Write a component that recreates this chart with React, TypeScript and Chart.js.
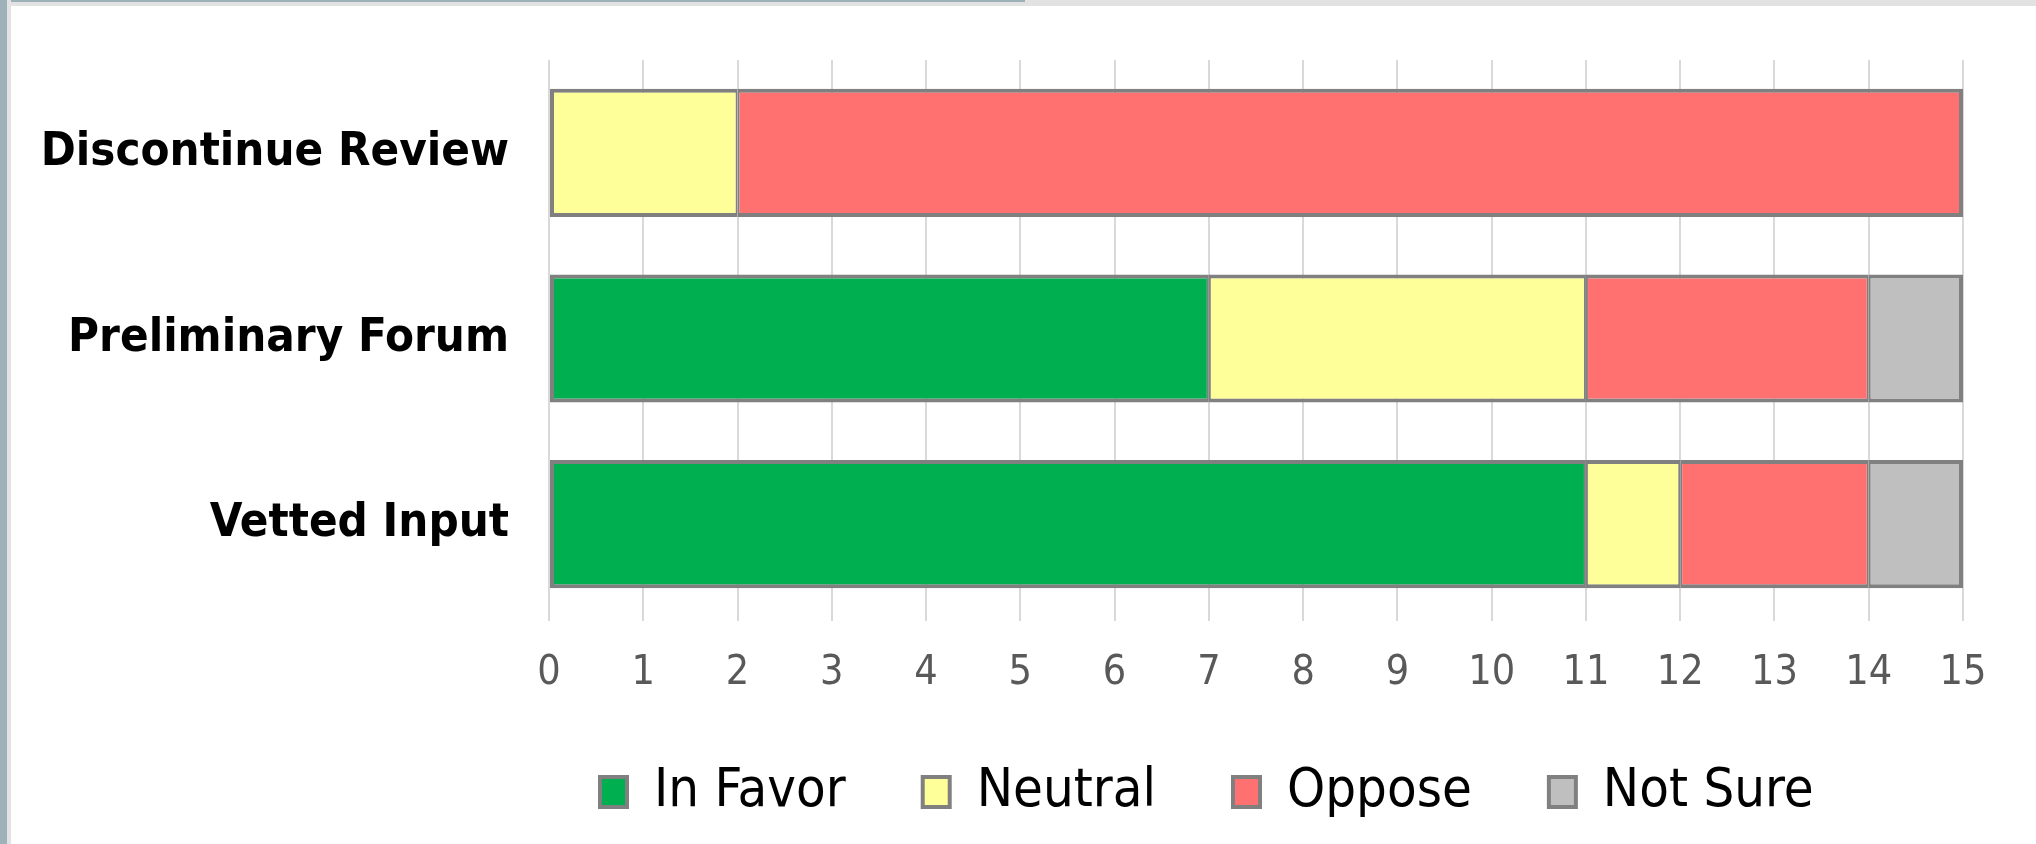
import React, { useEffect, useRef } from "react";
import { Chart, registerables } from "chart.js";

Chart.register(...registerables);

const categories = ["Discontinue Review", "Preliminary Forum", "Vetted Input"];
const seriesNames = ["In Favor", "Neutral", "Oppose", "Not Sure"];
const inFavor = [0, 7, 11];
const neutral = [2, 4, 1];
const oppose = [13, 3, 2];
const notSure = [0, 1, 1];
const seriesColors = ["#00b050", "#ffff99", "#ff7070", "#bfbfbf"];
const xMax = 15;

const FONT = "'DejaVu Sans Condensed', 'DejaVu Sans', sans-serif";
const BORDER = "#808080";
const LEGEND_START_X = 600;

const legendShift = {
  id: "legendShift",
  afterLayout(chart: any) {
    const lg = chart.legend;
    if (!lg || !lg.lineWidths) return;
    const pad = lg.options.labels.padding;
    const lw = lg.lineWidths[0];
    // center alignment: start = (left + pad + right - lw) / 2
    const newLeft = 2 * LEGEND_START_X - pad - lg.right + lw;
    const dx = newLeft - lg.left;
    lg.left += dx;
    if (lg.legendHitBoxes) lg.legendHitBoxes.forEach((h: any) => { h.left += dx / 2; });
  },
};

export default function App() {
  const ref = useRef<HTMLCanvasElement | null>(null);

  useEffect(() => {
    document.body.style.margin = "0";
    const series = [inFavor, neutral, oppose, notSure];
    const firstNZ = (row: number) => series.findIndex((s) => s[row] > 0);
    const lastNZ = (row: number) => {
      let k = -1;
      series.forEach((s, i) => { if (s[row] > 0) k = i; });
      return k;
    };
    const chart = new Chart(ref.current as HTMLCanvasElement, {
      type: "bar",
      plugins: [legendShift],
      data: {
        labels: categories,
        datasets: series.map((data, d) => ({
          label: seriesNames[d],
          data,
          backgroundColor: seriesColors[d],
          borderColor: BORDER,
          borderSkipped: false,
          borderWidth: (ctx: any) => {
            const row = ctx.dataIndex;
            if (row === undefined) return 4;
            return {
              top: 4,
              bottom: 4,
              left: firstNZ(row) === d ? 4 : 2,
              right: lastNZ(row) === d ? 4 : 2,
            };
          },
          categoryPercentage: 1,
          barPercentage: 0.69,
        })),
      },
      options: {
        indexAxis: "y",
        animation: false,
        responsive: false,
        devicePixelRatio: 1,
        layout: { padding: { top: 60, left: 0, right: 73, bottom: 15 } },
        plugins: {
          tooltip: { enabled: false },
          legend: {
            position: "bottom",
            labels: {
              font: { family: FONT, size: 54 },
              color: "#000000",
              boxWidth: 27,
              boxHeight: 30,
              padding: 77,
              generateLabels: () =>
                seriesNames.map((n, i) => ({
                  text: n,
                  fillStyle: seriesColors[i],
                  strokeStyle: BORDER,
                  lineWidth: 4,
                  hidden: false,
                  datasetIndex: i,
                })),
            },
          },
        },
        scales: {
          x: {
            stacked: true,
            min: 0,
            max: xMax,
            afterFit: (s: any) => { s.height = 71; },
            ticks: {
              stepSize: 1,
              color: "#595959",
              font: { family: FONT, size: 41 },
              padding: 28,
            },
            grid: {
              color: "#d9d9d9",
              lineWidth: 2,
              drawTicks: true,
              tickLength: 4,
            },
            border: { display: false },
          },
          y: {
            stacked: true,
            afterFit: (s: any) => {
              s.width = 549;
              s.paddingTop = 0;
              s.paddingBottom = 0;
            },
            ticks: {
              color: "#000000",
              font: { family: FONT, size: 47, weight: "bold" },
              padding: 40,
              autoSkip: false,
            },
            grid: { display: false, drawTicks: false },
            border: { display: false },
          },
        },
      },
    } as any);
    return () => chart.destroy();
  }, []);

  return (
    <div style={{ position: "relative", width: 2036, height: 844, background: "#ffffff", overflow: "hidden" }}>
      <canvas ref={ref} width={2036} height={844} style={{ display: "block" }} />
      <div style={{ position: "absolute", left: 0, top: 0, width: 2036, height: 6, background: "#e2e2e2" }} />
      <div style={{ position: "absolute", left: 0, top: 0, width: 1025, height: 2, background: "#9db1b8" }} />
      <div style={{ position: "absolute", left: 0, top: 0, width: 11, height: 844, background: "#e2e2e2" }} />
      <div style={{ position: "absolute", left: 0, top: 0, width: 7, height: 844, background: "#9db1b8" }} />
    </div>
  );
}
